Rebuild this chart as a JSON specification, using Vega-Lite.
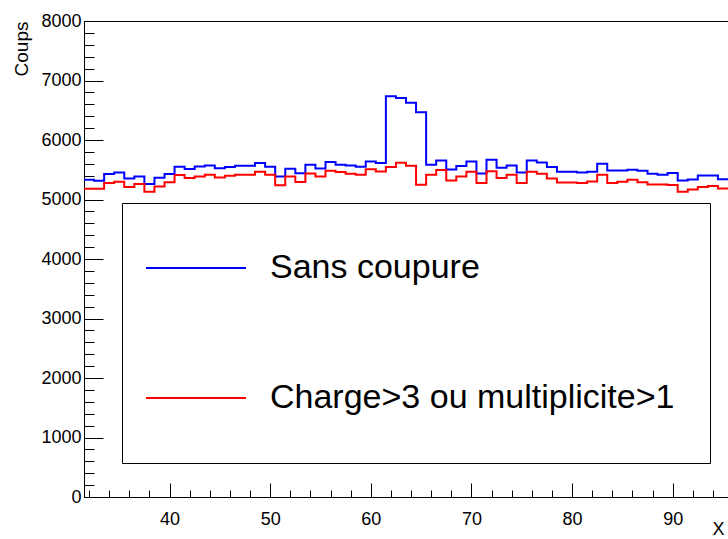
{
  "$schema": "https://vega.github.io/schema/vega-lite/v6.json",
  "width": 644,
  "height": 476,
  "autosize": {"type": "none"},
  "padding": {"left": 84, "top": 21, "right": 0, "bottom": 42},
  "background": "white",
  "config": {
    "view": {"stroke": "black", "strokeWidth": 1},
    "font": "Liberation Sans",
    "axis": {"grid": false, "domainColor": "black", "tickColor": "black", "labelColor": "black", "titleColor": "black", "labelFont": "Liberation Sans", "titleFont": "Liberation Sans", "titleFontWeight": "normal", "labelFlush": false, "labelOverlap": false, "format": "d"},
    "legend": {"orient": "none", "legendX": 38, "legendY": 182, "fillColor": "white", "strokeColor": "black", "padding": 15, "symbolType": "stroke", "symbolSize": 10000, "symbolStrokeWidth": 2, "symbolOffset": 8, "labelOffset": 23, "labelFontSize": 34, "labelFont": "Liberation Sans", "labelColor": "black", "rowPadding": 30, "clipHeight": 100, "labelLimit": 0, "titleOrient": "right", "titlePadding": 21, "titleFontSize": 8}
  },
  "data": {"values": [
    {"x": 31.5, "series": "Sans coupure", "count": 5332},
    {"x": 32.5, "series": "Sans coupure", "count": 5315},
    {"x": 33.5, "series": "Sans coupure", "count": 5427},
    {"x": 34.5, "series": "Sans coupure", "count": 5455},
    {"x": 35.5, "series": "Sans coupure", "count": 5354},
    {"x": 36.5, "series": "Sans coupure", "count": 5387},
    {"x": 37.5, "series": "Sans coupure", "count": 5259},
    {"x": 38.5, "series": "Sans coupure", "count": 5365},
    {"x": 39.5, "series": "Sans coupure", "count": 5427},
    {"x": 40.5, "series": "Sans coupure", "count": 5550},
    {"x": 41.5, "series": "Sans coupure", "count": 5512},
    {"x": 42.5, "series": "Sans coupure", "count": 5556},
    {"x": 43.5, "series": "Sans coupure", "count": 5570},
    {"x": 44.5, "series": "Sans coupure", "count": 5525},
    {"x": 45.5, "series": "Sans coupure", "count": 5548},
    {"x": 46.5, "series": "Sans coupure", "count": 5568},
    {"x": 47.5, "series": "Sans coupure", "count": 5568},
    {"x": 48.5, "series": "Sans coupure", "count": 5612},
    {"x": 49.5, "series": "Sans coupure", "count": 5550},
    {"x": 50.5, "series": "Sans coupure", "count": 5387},
    {"x": 51.5, "series": "Sans coupure", "count": 5517},
    {"x": 52.5, "series": "Sans coupure", "count": 5441},
    {"x": 53.5, "series": "Sans coupure", "count": 5584},
    {"x": 54.5, "series": "Sans coupure", "count": 5522},
    {"x": 55.5, "series": "Sans coupure", "count": 5629},
    {"x": 56.5, "series": "Sans coupure", "count": 5586},
    {"x": 57.5, "series": "Sans coupure", "count": 5573},
    {"x": 58.5, "series": "Sans coupure", "count": 5550},
    {"x": 59.5, "series": "Sans coupure", "count": 5640},
    {"x": 60.5, "series": "Sans coupure", "count": 5612},
    {"x": 61.5, "series": "Sans coupure", "count": 6734},
    {"x": 62.5, "series": "Sans coupure", "count": 6707},
    {"x": 63.5, "series": "Sans coupure", "count": 6628},
    {"x": 64.5, "series": "Sans coupure", "count": 6465},
    {"x": 65.5, "series": "Sans coupure", "count": 5584},
    {"x": 66.5, "series": "Sans coupure", "count": 5655},
    {"x": 67.5, "series": "Sans coupure", "count": 5506},
    {"x": 68.5, "series": "Sans coupure", "count": 5562},
    {"x": 69.5, "series": "Sans coupure", "count": 5640},
    {"x": 70.5, "series": "Sans coupure", "count": 5438},
    {"x": 71.5, "series": "Sans coupure", "count": 5668},
    {"x": 72.5, "series": "Sans coupure", "count": 5532},
    {"x": 73.5, "series": "Sans coupure", "count": 5573},
    {"x": 74.5, "series": "Sans coupure", "count": 5455},
    {"x": 75.5, "series": "Sans coupure", "count": 5657},
    {"x": 76.5, "series": "Sans coupure", "count": 5623},
    {"x": 77.5, "series": "Sans coupure", "count": 5545},
    {"x": 78.5, "series": "Sans coupure", "count": 5466},
    {"x": 79.5, "series": "Sans coupure", "count": 5466},
    {"x": 80.5, "series": "Sans coupure", "count": 5455},
    {"x": 81.5, "series": "Sans coupure", "count": 5466},
    {"x": 82.5, "series": "Sans coupure", "count": 5601},
    {"x": 83.5, "series": "Sans coupure", "count": 5489},
    {"x": 84.5, "series": "Sans coupure", "count": 5486},
    {"x": 85.5, "series": "Sans coupure", "count": 5500},
    {"x": 86.5, "series": "Sans coupure", "count": 5483},
    {"x": 87.5, "series": "Sans coupure", "count": 5433},
    {"x": 88.5, "series": "Sans coupure", "count": 5416},
    {"x": 89.5, "series": "Sans coupure", "count": 5444},
    {"x": 90.5, "series": "Sans coupure", "count": 5320},
    {"x": 91.5, "series": "Sans coupure", "count": 5337},
    {"x": 92.5, "series": "Sans coupure", "count": 5404},
    {"x": 93.5, "series": "Sans coupure", "count": 5404},
    {"x": 94.5, "series": "Sans coupure", "count": 5340},
    {"x": 95.5, "series": "Sans coupure", "count": 5340},
    {"x": 31.5, "series": "Charge>3 ou multiplicite>1", "count": 5180},
    {"x": 32.5, "series": "Charge>3 ou multiplicite>1", "count": 5180},
    {"x": 33.5, "series": "Charge>3 ou multiplicite>1", "count": 5276},
    {"x": 34.5, "series": "Charge>3 ou multiplicite>1", "count": 5298},
    {"x": 35.5, "series": "Charge>3 ou multiplicite>1", "count": 5209},
    {"x": 36.5, "series": "Charge>3 ou multiplicite>1", "count": 5259},
    {"x": 37.5, "series": "Charge>3 ou multiplicite>1", "count": 5130},
    {"x": 38.5, "series": "Charge>3 ou multiplicite>1", "count": 5219},
    {"x": 39.5, "series": "Charge>3 ou multiplicite>1", "count": 5290},
    {"x": 40.5, "series": "Charge>3 ou multiplicite>1", "count": 5413},
    {"x": 41.5, "series": "Charge>3 ou multiplicite>1", "count": 5360},
    {"x": 42.5, "series": "Charge>3 ou multiplicite>1", "count": 5387},
    {"x": 43.5, "series": "Charge>3 ou multiplicite>1", "count": 5416},
    {"x": 44.5, "series": "Charge>3 ou multiplicite>1", "count": 5371},
    {"x": 45.5, "series": "Charge>3 ou multiplicite>1", "count": 5399},
    {"x": 46.5, "series": "Charge>3 ou multiplicite>1", "count": 5416},
    {"x": 47.5, "series": "Charge>3 ou multiplicite>1", "count": 5416},
    {"x": 48.5, "series": "Charge>3 ou multiplicite>1", "count": 5466},
    {"x": 49.5, "series": "Charge>3 ou multiplicite>1", "count": 5416},
    {"x": 50.5, "series": "Charge>3 ou multiplicite>1", "count": 5240},
    {"x": 51.5, "series": "Charge>3 ou multiplicite>1", "count": 5387},
    {"x": 52.5, "series": "Charge>3 ou multiplicite>1", "count": 5295},
    {"x": 53.5, "series": "Charge>3 ou multiplicite>1", "count": 5438},
    {"x": 54.5, "series": "Charge>3 ou multiplicite>1", "count": 5387},
    {"x": 55.5, "series": "Charge>3 ou multiplicite>1", "count": 5483},
    {"x": 56.5, "series": "Charge>3 ou multiplicite>1", "count": 5461},
    {"x": 57.5, "series": "Charge>3 ou multiplicite>1", "count": 5433},
    {"x": 58.5, "series": "Charge>3 ou multiplicite>1", "count": 5416},
    {"x": 59.5, "series": "Charge>3 ou multiplicite>1", "count": 5508},
    {"x": 60.5, "series": "Charge>3 ou multiplicite>1", "count": 5471},
    {"x": 61.5, "series": "Charge>3 ou multiplicite>1", "count": 5547},
    {"x": 62.5, "series": "Charge>3 ou multiplicite>1", "count": 5617},
    {"x": 63.5, "series": "Charge>3 ou multiplicite>1", "count": 5567},
    {"x": 64.5, "series": "Charge>3 ou multiplicite>1", "count": 5250},
    {"x": 65.5, "series": "Charge>3 ou multiplicite>1", "count": 5418},
    {"x": 66.5, "series": "Charge>3 ou multiplicite>1", "count": 5494},
    {"x": 67.5, "series": "Charge>3 ou multiplicite>1", "count": 5320},
    {"x": 68.5, "series": "Charge>3 ou multiplicite>1", "count": 5387},
    {"x": 69.5, "series": "Charge>3 ou multiplicite>1", "count": 5468},
    {"x": 70.5, "series": "Charge>3 ou multiplicite>1", "count": 5276},
    {"x": 71.5, "series": "Charge>3 ou multiplicite>1", "count": 5474},
    {"x": 72.5, "series": "Charge>3 ou multiplicite>1", "count": 5360},
    {"x": 73.5, "series": "Charge>3 ou multiplicite>1", "count": 5416},
    {"x": 74.5, "series": "Charge>3 ou multiplicite>1", "count": 5276},
    {"x": 75.5, "series": "Charge>3 ou multiplicite>1", "count": 5466},
    {"x": 76.5, "series": "Charge>3 ou multiplicite>1", "count": 5433},
    {"x": 77.5, "series": "Charge>3 ou multiplicite>1", "count": 5354},
    {"x": 78.5, "series": "Charge>3 ou multiplicite>1", "count": 5286},
    {"x": 79.5, "series": "Charge>3 ou multiplicite>1", "count": 5286},
    {"x": 80.5, "series": "Charge>3 ou multiplicite>1", "count": 5276},
    {"x": 81.5, "series": "Charge>3 ou multiplicite>1", "count": 5303},
    {"x": 82.5, "series": "Charge>3 ou multiplicite>1", "count": 5416},
    {"x": 83.5, "series": "Charge>3 ou multiplicite>1", "count": 5276},
    {"x": 84.5, "series": "Charge>3 ou multiplicite>1", "count": 5298},
    {"x": 85.5, "series": "Charge>3 ou multiplicite>1", "count": 5332},
    {"x": 86.5, "series": "Charge>3 ou multiplicite>1", "count": 5292},
    {"x": 87.5, "series": "Charge>3 ou multiplicite>1", "count": 5253},
    {"x": 88.5, "series": "Charge>3 ou multiplicite>1", "count": 5253},
    {"x": 89.5, "series": "Charge>3 ou multiplicite>1", "count": 5242},
    {"x": 90.5, "series": "Charge>3 ou multiplicite>1", "count": 5130},
    {"x": 91.5, "series": "Charge>3 ou multiplicite>1", "count": 5168},
    {"x": 92.5, "series": "Charge>3 ou multiplicite>1", "count": 5208},
    {"x": 93.5, "series": "Charge>3 ou multiplicite>1", "count": 5225},
    {"x": 94.5, "series": "Charge>3 ou multiplicite>1", "count": 5185},
    {"x": 95.5, "series": "Charge>3 ou multiplicite>1", "count": 5185}
  ]},
  "layer": [
    {
      "transform": [{"filter": "datum.series === 'Sans coupure'"}],
      "mark": {"type": "line", "interpolate": "step-after", "strokeWidth": 2},
      "encoding": {
        "x": {"field": "x", "type": "quantitative", "scale": {"domain": [31.5, 95.5], "nice": false, "zero": false},
          "axis": {"orient": "bottom", "values": [40, 50, 60, 70, 80, 90], "tickSize": -14, "labelPadding": 27, "labelFontSize": 18, "title": "X", "titleFontSize": 18, "titleX": 640, "titleY": 37, "titleAlign": "right", "titleAnchor": null, "titleBaseline": "alphabetic"}},
        "y": {"field": "count", "type": "quantitative", "scale": {"domain": [0, 8000], "nice": false, "zero": true},
          "axis": {"orient": "left", "values": [0, 1000, 2000, 3000, 4000, 5000, 6000, 7000, 8000], "tickSize": -19, "labelPadding": 22, "labelFontSize": 18, "title": "Coups", "titleFontSize": 19, "titleX": -57, "titleY": 0, "titleAlign": "right", "titleAngle": -90, "titleBaseline": "alphabetic", "titleAnchor": null}},
        "color": {"field": "series", "type": "nominal", "scale": {"domain": ["Sans coupure", "Charge>3 ou multiplicite>1"], "range": ["#0000ff", "#ff0000"]}, "legend": {"title": "\u00a0"}}
      }
    },
    {
      "transform": [{"filter": "datum.series !== 'Sans coupure'"}],
      "mark": {"type": "line", "interpolate": "step-after", "strokeWidth": 2},
      "encoding": {
        "x": {"field": "x", "type": "quantitative", "scale": {"domain": [31.5, 95.5], "nice": false, "zero": false},
          "axis": {"orient": "bottom", "values": [32, 34, 36, 38, 42, 44, 46, 48, 52, 54, 56, 58, 62, 64, 66, 68, 72, 74, 76, 78, 82, 84, 86, 88, 92, 94], "tickSize": -7, "labels": false, "domain": false, "title": null}},
        "y": {"field": "count", "type": "quantitative", "scale": {"domain": [0, 8000], "nice": false, "zero": true},
          "axis": {"orient": "left", "values": [200, 400, 600, 800, 1200, 1400, 1600, 1800, 2200, 2400, 2600, 2800, 3200, 3400, 3600, 3800, 4200, 4400, 4600, 4800, 5200, 5400, 5600, 5800, 6200, 6400, 6600, 6800, 7200, 7400, 7600, 7800], "tickSize": -10, "labels": false, "domain": false, "title": null}},
        "color": {"field": "series", "type": "nominal", "scale": {"domain": ["Sans coupure", "Charge>3 ou multiplicite>1"], "range": ["#0000ff", "#ff0000"]}, "legend": {"title": "\u00a0"}}
      }
    }
  ],
  "resolve": {"axis": {"x": "independent", "y": "independent"}}
}
